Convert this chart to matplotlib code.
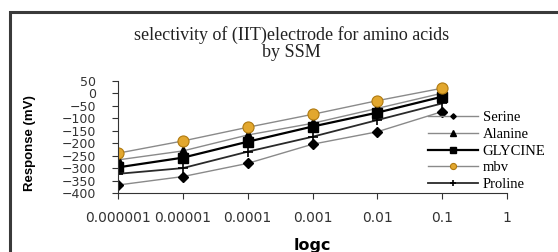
import matplotlib
matplotlib.use('Agg')
import matplotlib.pyplot as plt
from matplotlib.patches import Rectangle

# concentrations (log axis) and responses
conc = [0.000001, 0.00001, 0.0001, 0.001, 0.01, 0.1]
serine = [-368, -334, -281, -204, -154, -73]
alanine = [-267, -231, -167, -120, -60, 1]
glycine = [-297, -258, -194, -133, -77, -13]
mbv = [-240, -191, -136, -84, -29, 21]
proline = [-323, -300, -234, -174, -107, -40]

xticks = [0.000001, 0.00001, 0.0001, 0.001, 0.01, 0.1, 1]
xticklabels = ['0.000001', '0.00001', '0.0001', '0.001', '0.01', '0.1', '1']
yticks = list(range(-400, 51, 50))

fig = plt.figure(figsize=(5.58, 2.52), dpi=100)
ax = fig.add_axes([118/558, 1-193/252, (507-118)/558, (193-81)/252])

ax.plot(conc, serine, color='#8a8a8a', lw=1.0, marker='D', ms=5,
        mfc='black', mec='black', label='Serine')
ax.plot(conc, alanine, color='#8a8a8a', lw=1.0, marker='^', ms=7.5,
        mfc='black', mec='black', label='Alanine')
ax.plot(conc, glycine, color='black', lw=1.6, marker='s', ms=7,
        mfc='black', mec='black', label='GLYCINE')
ax.plot(conc, mbv, color='#8a8a8a', lw=1.0, marker='o', ms=8,
        mfc='#E2A72E', mec='#B07A10', mew=0.8, label='mbv')
ax.plot(conc, proline, color='#2a2a2a', lw=1.3, marker='+', ms=7,
        mec='black', mew=1.2, label='Proline')

ax.set_xscale('log')
ax.set_xlim(0.000001, 1)
ax.set_ylim(-400, 50)
ax.set_xticks(xticks)
ax.set_xticklabels(xticklabels)
ax.minorticks_off()
ax.set_yticks(yticks)
for s in ['top', 'right']:
    ax.spines[s].set_visible(False)
ax.spines['left'].set_color('#333333')
ax.spines['bottom'].set_color('#333333')
ax.tick_params(axis='y', direction='out', length=4, pad=12, labelsize=9,
               colors='#333333')
ax.tick_params(axis='x', direction='out', length=4, pad=9, labelsize=10,
               colors='#333333')

ax.set_ylabel('Response (mV)', fontsize=9.5, fontweight='bold',
              family='Liberation Sans')
ax.yaxis.set_label_coords(-0.21, 0.45)
ax.set_xlabel('logc', fontsize=11.5, fontweight='bold', labelpad=9)

fig.text(0.523, 0.827, 'selectivity of (IIT)electrode for amino acids\nby SSM',
         ha='center', va='center', fontsize=13, family='Liberation Serif',
         linespacing=1.05, color='#222222')

leg = fig.legend(loc='upper left', bbox_to_anchor=(428/558, 1-111/252),
                 frameon=False, prop={'family': 'Liberation Serif', 'size': 10.5},
                 handlelength=3.4, handletextpad=0.35, labelspacing=0.24,
                 markerscale=0.55, borderpad=0, borderaxespad=0)

# outer frame of the picture
fig.patches.append(Rectangle((9.5/558, -0.2), 1.2, 1.2 - 11.5/252,
                             transform=fig.transFigure, fill=False,
                             edgecolor='#3a3a3a', lw=2.2))

fig.savefig('out.png', dpi=100)
